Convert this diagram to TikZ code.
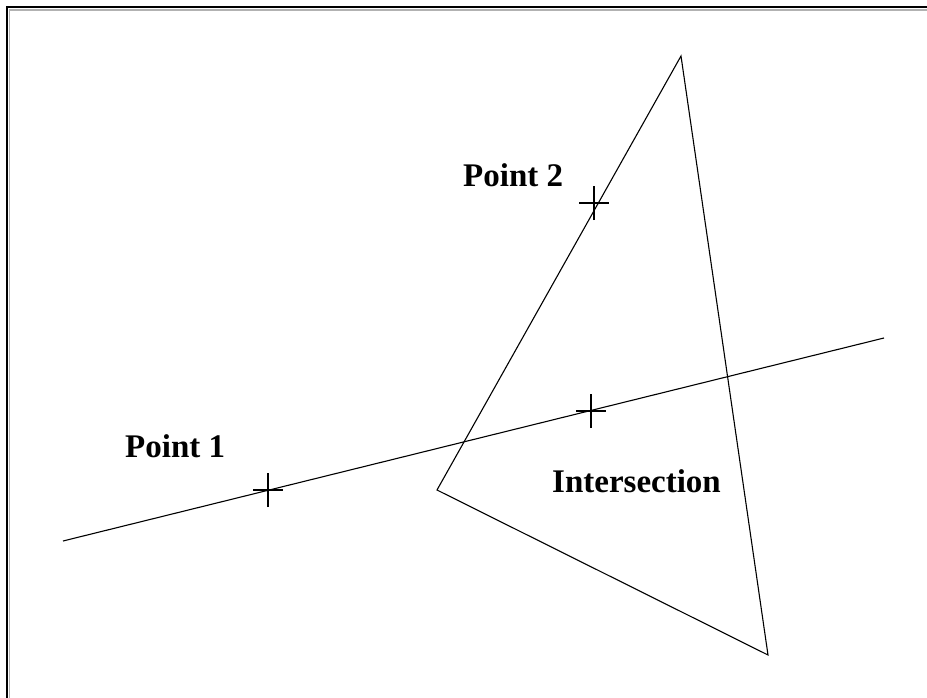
\documentclass[tikz,border=0pt]{standalone}
\usepackage{fontspec}
\setmainfont{Liberation Serif}
\usepackage{tikz}
\usetikzlibrary{positioning}

\begin{document}
\begin{tikzpicture}[
  x=1pt, y=-1pt,
  font=\fontsize{33}{36}\selectfont\bfseries,
  edgeLine/.style={draw, line width=1.1pt},
  markArm/.style={draw, line width=1.3pt},
  labelNode/.style={inner sep=0pt, anchor=base west}
]
  \useasboundingbox (0,0) rectangle (927,698);
  \fill [white] (0,0) rectangle (927,698);
  % window frame, top and left only
  \draw [line width=2pt] (7,698) -- (7,7.5) -- (927,7.5);
  \draw [line width=1.2pt, gray!60] (9.6,698) -- (9.6,10) -- (927,10);

  % triangle and line
  \coordinate (apex) at (681,56);
  \coordinate (leftTip) at (437,490);
  \coordinate (lowTip) at (768,655);
  \coordinate (lineStart) at (63,541);
  \coordinate (lineEnd) at (884,338);
  \draw [edgeLine] (apex) -- (leftTip) -- (lowTip) -- cycle;
  \draw [edgeLine] (lineStart) -- (lineEnd);

  % marked points
  \coordinate (pt1) at (268,490);
  \coordinate (pt2) at (594,203);
  \coordinate (ptX) at (591,411);
  \foreach \p in {pt1, pt2, ptX} {
    \draw [markArm] ([xshift=-15]\p) -- ([xshift=15]\p);
    \draw [markArm] ([yshift=-17]\p) -- ([yshift=17]\p);
  }

  \node [labelNode] (lblOne) at (125,457) {Point 1};
  \node [labelNode] (lblTwo) at (463,187) {Point 2};
  \node [labelNode] (lblX) at (552,492) {Intersection};
\end{tikzpicture}
\end{document}
